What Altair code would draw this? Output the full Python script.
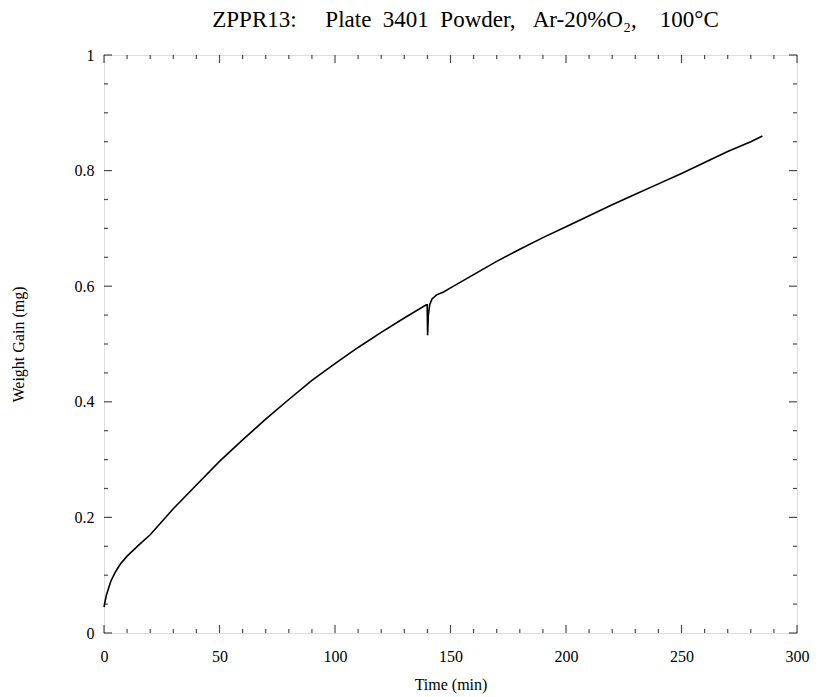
import altair as alt
import pandas as pd

# Data
time_min = [0, 1, 2, 3, 5, 7, 10, 15, 20, 30, 40, 50, 60, 70, 80, 90, 100, 110, 120, 130,
            139.5, 139.9, 140.1, 140.4, 141, 142, 144, 147, 150, 160, 170, 180, 190, 200,
            210, 220, 230, 240, 250, 260, 270, 280, 285]
weight_mg = [0.045, 0.065, 0.078, 0.09, 0.106, 0.119, 0.133, 0.152, 0.17, 0.215, 0.256, 0.297,
             0.334, 0.37, 0.404, 0.437, 0.466, 0.494, 0.52, 0.545,
             0.568, 0.568, 0.515, 0.55, 0.568, 0.578, 0.585, 0.59, 0.597, 0.62, 0.643, 0.664,
             0.684, 0.703, 0.722, 0.741, 0.759, 0.777, 0.795, 0.814, 0.833, 0.85, 0.86]

x_major = [0, 50, 100, 150, 200, 250, 300]
x_minor = [v for v in range(0, 301, 10) if v % 50 != 0]
y_major = [0, 0.2, 0.4, 0.6, 0.8, 1.0]
y_minor = [0.05, 0.1, 0.15, 0.25, 0.3, 0.35, 0.45, 0.5, 0.55, 0.65, 0.7, 0.75, 0.85, 0.9, 0.95]

title_words = ["ZPPR13:", "Plate", "3401", "Powder,", "Ar-20%O\u2082,", "100\u00b0C"]
title_gaps = [5, 2, 2, 3, 4]

NB = "\u00a0"
title_text = title_words[0]
for g, w in zip(title_gaps, title_words[1:]):
    title_text += NB * g + w

df = pd.DataFrame({"t": time_min, "w": weight_mg})

FONT = "Liberation Serif"
xs = alt.Scale(domain=[0, 300], nice=False, zero=False)
ys = alt.Scale(domain=[0, 1], nice=False)

main = alt.Chart(df).mark_line(color="black", strokeWidth=1.6).encode(
    x=alt.X("t:Q", scale=xs,
            axis=alt.Axis(values=x_major, ticks=False, domain=False, grid=False,
                          labelFont=FONT, labelFontSize=16, labelColor="black",
                          labelPadding=15, labelFlush=False,
                          title="Time (min)", titleFont=FONT, titleFontSize=16,
                          titleFontWeight="normal", titleColor="black", titlePadding=12)),
    y=alt.Y("w:Q", scale=ys,
            axis=alt.Axis(values=y_major, ticks=False, domain=False, grid=False,
                          labelFont=FONT, labelFontSize=16, labelColor="black",
                          labelPadding=10, labelFlush=False, format="~g",
                          title="Weight Gain (mg)", titleFont=FONT, titleFontSize=16,
                          titleFontWeight="normal", titleColor="black", titlePadding=48)),
)


def xticks(values, size, at_y, off):
    return alt.Chart(pd.DataFrame({"v": values})).mark_tick(
        orient="vertical", size=size, thickness=1.2, color="black"
    ).encode(
        x=alt.X("v:Q", scale=xs, axis=None),
        y=alt.YDatum(at_y, scale=ys, axis=None),
        yOffset=alt.value(off),
    )


def yticks(values, size, at_x, off):
    return alt.Chart(pd.DataFrame({"v": values})).mark_tick(
        orient="horizontal", size=size, thickness=1.2, color="black"
    ).encode(
        y=alt.Y("v:Q", scale=ys, axis=None),
        x=alt.XDatum(at_x, scale=xs, axis=None),
        xOffset=alt.value(off),
    )


layers = [
    main,
    xticks(x_major, 8, 0, -4),
    xticks(x_minor, 4, 0, -2),
    xticks(x_major, 8, 1, 4),
    xticks(x_minor, 4, 1, 2),
    yticks(y_major, 8, 0, 4),
    yticks(y_minor, 4, 0, 2),
    yticks(y_major, 8, 300, -4),
    yticks(y_minor, 4, 300, -2),
]

chart = alt.layer(*layers).resolve_axis(x="independent", y="independent").properties(
    width=693,
    height=578,
    autosize=alt.AutoSizeParams(type="none"),
    padding={"left": 96, "top": 47, "right": 13, "bottom": 62},
    title=alt.TitleParams(
        title_text,
        font=FONT, fontSize=23, fontWeight="normal", color="black", dx=15, offset=15,
    ),
).configure_view(stroke="black", strokeWidth=1.5).configure(background="white")

chart.save("out.html", embed_options={"renderer": "svg", "actions": False})
